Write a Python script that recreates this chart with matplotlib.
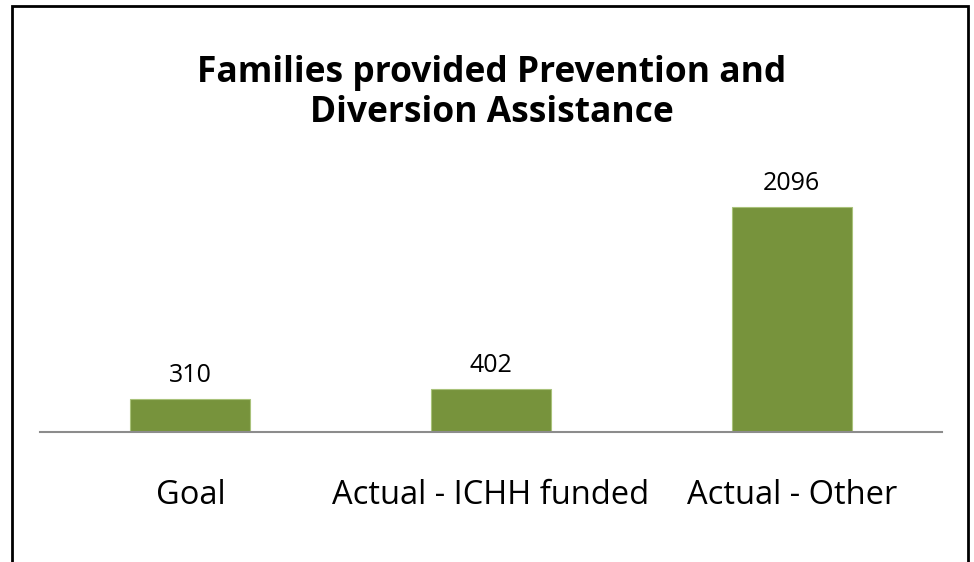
import numpy as np
import matplotlib.pyplot as plt
from matplotlib.patches import Rectangle

categories = ["Goal", "Actual - ICHH funded", "Actual - Other"]
values = [310, 402, 2096]
title = "Families provided Prevention and\nDiversion Assistance"

plt.rcParams['font.family'] = ['Open Sans', 'DejaVu Sans']

W, H = 974, 562
fig = plt.figure(figsize=(W / 100, H / 100), dpi=100)

# outer border (bottom runs off the image)
fig.patches.append(Rectangle((12 / W, -0.05), 956 / W, (H - 6) / H + 0.05,
                             transform=fig.transFigure, fill=False,
                             edgecolor="black", linewidth=2))

ymax = 2500
ax_h = ymax / 2096 * 225  # px
ax = fig.add_axes([40 / W, (H - 432) / H, 902 / W, ax_h / H])

x = np.arange(len(categories))
bars = ax.bar(x, values, width=0.4, color="#77933C", edgecolor="#A9C27A", linewidth=0.8)
ax.set_xlim(-0.5, len(categories) - 0.5)
ax.set_ylim(0, ymax)

for b, v in zip(bars, values):
    ax.annotate(str(v), (b.get_x() + b.get_width() / 2, v), xytext=(0, 8),
                textcoords="offset points", ha="center", va="bottom", fontsize=18)

for s in ["top", "right", "left"]:
    ax.spines[s].set_visible(False)
ax.spines["bottom"].set_color("#8C8C8C")
ax.spines["bottom"].set_linewidth(1.5)
ax.set_yticks([])
ax.set_xticks(x)
ax.set_xticklabels(categories, fontsize=23.5)
ax.tick_params(axis="x", length=0, pad=34)

fig.text(492 / W, 1 - 93 / H, title, ha="center", va="center", fontsize=25.5,
         fontweight="bold", linespacing=1.12)

fig.savefig("out.png", dpi=100)
